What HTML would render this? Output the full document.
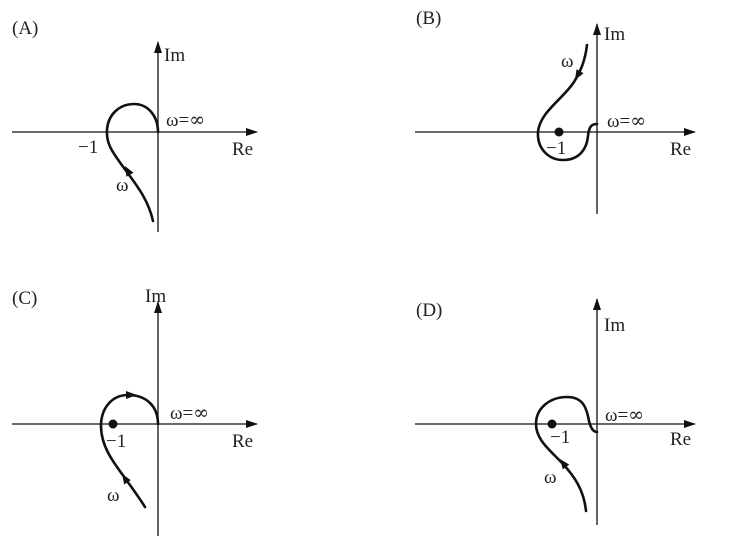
<!DOCTYPE html>
<html><head><meta charset="utf-8"><style>
html,body{margin:0;padding:0;background:#fff;width:743px;height:543px;overflow:hidden}
svg text{font-family:"Liberation Serif",serif;font-size:19px;fill:#222}
.inf{font-family:"DejaVu Serif",serif;font-size:19px}
</style></head><body>
<svg width="743" height="543" viewBox="0 0 743 543" xmlns="http://www.w3.org/2000/svg">
<defs>
<marker id="ah" markerWidth="12" markerHeight="8" refX="11" refY="4" orient="auto" markerUnits="userSpaceOnUse"><path d="M0,0 L12,4 L0,8 Z" fill="#111"/></marker>
</defs>
<g stroke="#111" stroke-width="1.3" fill="none">
<line x1="12" y1="132" x2="257" y2="132" marker-end="url(#ah)"/>
<line x1="158" y1="232" x2="158" y2="42" marker-end="url(#ah)"/>
<line x1="415" y1="132" x2="695" y2="132" marker-end="url(#ah)"/>
<line x1="597" y1="214" x2="597" y2="24" marker-end="url(#ah)"/>
<line x1="12" y1="424" x2="257" y2="424" marker-end="url(#ah)"/>
<line x1="158" y1="536" x2="158" y2="302" marker-end="url(#ah)"/>
<line x1="415" y1="424" x2="695" y2="424" marker-end="url(#ah)"/>
<line x1="597" y1="525" x2="597" y2="299" marker-end="url(#ah)"/>
</g>
<g stroke="#111" stroke-width="2.6" fill="none" stroke-linecap="round">
<path d="M153,221 C148,198 134,182 124,168 C114,154 106,145 107,130 C108,114 120,104 134,104 C148,104 158,116 158,132"/>
<path d="M587,45 C585,62 580,72 574,82 C562,100 540,112 538,132 C537,150 550,160 563,160 C580,160 587,148 588,136 C589,126 592,124 597,124"/>
<path d="M145,507 C138,496 132,488 125,478 C113,462 101,446 101,426 C101,408 112,395 128,395 C146,395 158,406 158,424"/>
<path d="M586,511 C584,490 574,476 563,464 C550,450 536,440 536,424 C536,408 550,397 567,397 C583,397 586,408 588,416 C590,428 593,432 597,432"/>
</g>
<g fill="#111">
<path d="M125,166 L133.5,172.7 L126.5,176.7 Z"/>
<path d="M575,80 L583.5,73.3 L576.5,69.3 Z"/>
<path d="M122,474 L130.8,480.1 L124.2,484.5 Z"/>
<path d="M137,395 L126,391 L126,399 Z"/>
<path d="M560,459 L569.2,464.6 L562.8,469.4 Z"/>
<circle cx="559" cy="132" r="4.5"/>
<circle cx="113" cy="424" r="4.5"/>
<circle cx="552" cy="424" r="4.5"/>
</g>
<text x="12" y="34">(A)</text>
<text x="164" y="61">Im</text>
<text x="166" y="126">ω=<tspan class="inf">∞</tspan></text>
<text x="78" y="153">−1</text>
<text x="232" y="155">Re</text>
<text x="116" y="191">ω</text>
<text x="416" y="24">(B)</text>
<text x="604" y="40">Im</text>
<text x="561" y="67">ω</text>
<text x="607" y="127">ω=<tspan class="inf">∞</tspan></text>
<text x="546" y="154">−1</text>
<text x="670" y="155">Re</text>
<text x="12" y="304">(C)</text>
<text x="145" y="302">Im</text>
<text x="170" y="419">ω=<tspan class="inf">∞</tspan></text>
<text x="106" y="447">−1</text>
<text x="232" y="447">Re</text>
<text x="107" y="501">ω</text>
<text x="416" y="316">(D)</text>
<text x="604" y="331">Im</text>
<text x="605" y="421">ω=<tspan class="inf">∞</tspan></text>
<text x="550" y="443">−1</text>
<text x="670" y="445">Re</text>
<text x="544" y="483">ω</text>
</svg>
</body></html>
